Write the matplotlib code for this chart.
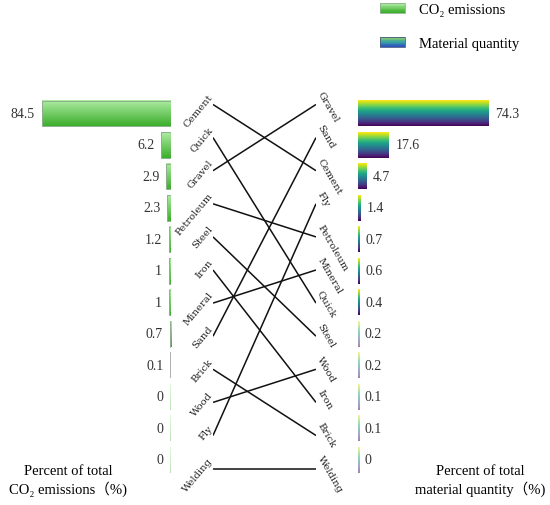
import matplotlib
matplotlib.use('Agg')
import matplotlib.pyplot as plt
import numpy as np
from matplotlib.colors import LinearSegmentedColormap
from matplotlib.legend_handler import HandlerBase
from matplotlib.patches import Rectangle

# ---------------- data ----------------
left_names = ['Cement', 'Quick', 'Gravel', 'Petroleum', 'Steel', 'Iron',
              'Mineral', 'Sand', 'Brick', 'Wood', 'Fly', 'Welding']
co2_values = [84.5, 6.2, 2.9, 2.3, 1.2, 1, 1, 0.7, 0.1, 0, 0, 0]

right_names = ['Gravel', 'Sand', 'Cement', 'Fly', 'Petroleum', 'Mineral',
               'Quick', 'Steel', 'Wood', 'Iron', 'Brick', 'Welding']
qty_values = [74.3, 17.6, 4.7, 1.4, 0.7, 0.6, 0.4, 0.2, 0.2, 0.1, 0.1, 0]

legend_labels = ['CO\u2082 emissions', 'Material quantity']
left_title = 'Percent of total\nCO\u2082 emissions\uff08%)'
right_title = 'Percent of total\nmaterial quantity\uff08%)'

# ---------------- style ----------------
plt.rcParams['font.family'] = ['Liberation Serif', 'Noto Sans CJK SC', 'DejaVu Serif']

W, H = 550, 506
fig = plt.figure(figsize=(W / 100, H / 100), dpi=100)


def fr(x0, y0, x1, y1):
    return [x0 / W, 1 - y1 / H, (x1 - x0) / W, (y1 - y0) / H]


axL = fig.add_axes(fr(0, 98.75, 170.7, 476.75))
axR = fig.add_axes(fr(357.7, 98.75, 550, 476.75))
axM = fig.add_axes(fr(213, 88.95, 316, 486.15))

green_cmap = LinearSegmentedColormap.from_list('g', ['#aeeca2', '#3cae2c'])
N = 64
green_grad = green_cmap(np.linspace(0, 1, N))[:, None, :3]
grey_grad = np.ones((N, 1, 3)) * 0.62
vir_grad = plt.get_cmap('viridis')(np.linspace(1, 0, N))[:, None, :3]

rows = np.arange(len(left_names))

# ---- left bars ----
barsL = axL.barh(rows, co2_values, height=0.8, facecolor='none',
                 edgecolor='#8fae8f', linewidth=0.7, zorder=3)
for p, v in zip(barsL, co2_values):
    x0, w, y0, h = p.get_x(), p.get_width(), p.get_y(), p.get_height()
    if v < 0.5:
        p.set_edgecolor('none')
        if v == 0:
            axL.imshow(green_grad, extent=[x0, x0 + 0.6, y0 + h, y0], origin='upper',
                       aspect='auto', zorder=2, interpolation='bilinear', alpha=0.35)
        else:
            axL.imshow(grey_grad, extent=[x0, x0 + 0.6, y0 + h, y0], origin='upper',
                       aspect='auto', zorder=2, interpolation='bilinear', alpha=0.8)
    else:
        axL.imshow(green_grad, extent=[x0, x0 + w, y0 + h, y0], origin='upper',
                   aspect='auto', zorder=2, interpolation='bilinear')
    axL.annotate(f'{v:g}', xy=(v, y0 + h / 2), xytext=(-5, 0),
                 textcoords='offset points', ha='right', va='center',
                 fontsize=10, color='#333333')
axL.set_xlim(170.7 / 1.523, 0)
axL.set_ylim(len(rows) - 0.5, -0.5)
axL.axis('off')

# ---- right bars ----
barsR = axR.barh(rows, qty_values, height=0.8, facecolor='none',
                 edgecolor='none', zorder=3)
for p, v in zip(barsR, qty_values):
    x0, w, y0, h = p.get_x(), p.get_width(), p.get_y(), p.get_height()
    wd = max(w, 0.6)
    axR.imshow(vir_grad, extent=[x0, x0 + wd, y0 + h, y0], origin='upper',
               aspect='auto', zorder=2, interpolation='bilinear',
               alpha=1.0 if v >= 0.4 else 0.5)
    axR.annotate(f'{v:g}', xy=(v, y0 + h / 2), xytext=(5, 0),
                 textcoords='offset points', ha='left', va='center',
                 fontsize=10, color='#333333')
axR.set_xlim(0, 192.3 / 1.758)
axR.set_ylim(len(rows) - 0.5, -0.5)
axR.axis('off')

# ---- middle connecting lines ----
lab_font = dict(fontsize=7.2, color='#222222', family=['DejaVu Serif'])
for i, name in enumerate(left_names):
    j = right_names.index(name)
    axM.plot([0, 1], [i, j], color='#111111', lw=1.1, solid_capstyle='butt')
for i, name in enumerate(left_names):
    axM.annotate(name, xy=(0, i), xytext=(0, 6.0), textcoords='offset points',
                 ha='right', va='baseline', rotation=50, rotation_mode='anchor',
                 annotation_clip=False, **lab_font)
for j, name in enumerate(right_names):
    axM.annotate(name, xy=(1, j), xytext=(1, 8.0), textcoords='offset points',
                 ha='left', va='baseline', rotation=-60, rotation_mode='anchor',
                 annotation_clip=False, **lab_font)
axM.set_xlim(0, 1)
axM.set_ylim(len(rows) - 0.5, -0.5)
axM.axis('off')

# ---- axis titles ----
fig.text(68 / W, 1 - 481 / H, left_title, ha='center', va='center',
         fontsize=10.5, linespacing=1.25, multialignment='center')
fig.text(480 / W, 1 - 481 / H, right_title, ha='center', va='center',
         fontsize=10.5, linespacing=1.25, multialignment='center')


# ---- legend ----
class GradHandler(HandlerBase):
    def __init__(self, colors, edge):
        super().__init__()
        self.colors = colors
        self.edge = edge

    def create_artists(self, legend, orig_handle, xdescent, ydescent, width,
                       height, fontsize, trans):
        n = len(self.colors)
        arts = []
        for k, c in enumerate(self.colors):
            y = -ydescent + height * (1 - (k + 1) / n)
            arts.append(Rectangle((-xdescent, y), width, height / n, facecolor=c,
                                  edgecolor='none', transform=trans))
        arts.append(Rectangle((-xdescent, -ydescent), width, height,
                              facecolor='none', edgecolor=self.edge, lw=0.6,
                              transform=trans))
        return arts


h1 = Rectangle((0, 0), 1, 1)
h2 = Rectangle((0, 0), 1, 1)
g_cols = [green_cmap(t) for t in np.linspace(0, 1, 12)]
m_cmap = LinearSegmentedColormap.from_list('m', ['#86cc70', '#3aa2a0', '#2d55c0'])
m_cols = [m_cmap(t) for t in np.linspace(0, 1, 12)]
fig.legend([h1, h2], legend_labels,
           handler_map={h1: GradHandler(g_cols, '#8fae8f'),
                        h2: GradHandler(m_cols, '#4a5a80')},
           loc='upper left', bbox_to_anchor=(380 / W, 1 - 4 / H),
           frameon=False, borderpad=0, borderaxespad=0, handlelength=1.7,
           handleheight=0.62, handletextpad=1.0, labelspacing=1.45,
           fontsize=10.5)

fig.savefig('out.png', dpi=100)
